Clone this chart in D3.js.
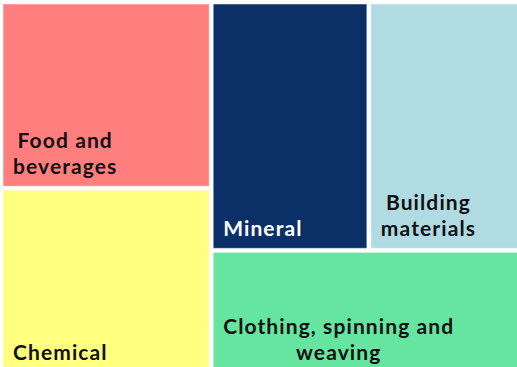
<!DOCTYPE html>
<html>
<head>
<meta charset="utf-8">
<script src="https://cdn.jsdelivr.net/npm/d3@7"></script>
<style>
  html, body { margin: 0; padding: 0; background: #fff; overflow: hidden; }
  svg { display: block; }
</style>
</head>
<body>
<div id="chart"></div>
<script>
// sectors, in layout order
const categories = ['Food and beverages', 'Chemical', 'Mineral', 'Building materials', 'Clothing, spinning and weaving'];
const values = [20, 20, 20, 20, 20];
// how each label breaks into lines
const labelLines = [
  ['Food and', 'beverages'],
  ['Chemical'],
  ['Mineral'],
  ['Building', 'materials'],
  ['Clothing, spinning and', 'weaving']
];
const colors = ['#ff7f7f', '#ffff80', '#0b3068', '#b0dbe3', '#66e5a1'];
const textColors = ['#111', '#111', '#fff', '#111', '#111'];

const width = 517;
const height = 367;
const margin = { top: 4, left: 3 };

const svg = d3.select('#chart')
  .append('svg')
  .attr('width', width)
  .attr('height', height);

const container = svg.append('g')
  .attr('transform', `translate(${margin.left},${margin.top})`);

const root = d3.hierarchy({
  children: categories.map((c, i) => ({ name: c, value: values[i], i }))
}).sum((d) => d.value || 0);

d3.treemap()
  .tile(d3.treemapSquarify)
  .size([521.5, 368.5])
  .paddingInner(4)(root);

const cells = container.selectAll('g.cell')
  .data(root.leaves())
  .enter()
  .append('g')
  .attr('class', 'cell');

cells.append('rect')
  .attr('x', (d) => d.x0)
  .attr('y', (d) => d.y0)
  .attr('width', (d) => d.x1 - d.x0)
  .attr('height', (d) => d.y1 - d.y0)
  .attr('fill', (d) => colors[d.data.i])
  .attr('stroke', '#fff')
  .attr('stroke-opacity', 0.5)
  .attr('stroke-width', 1);

cells.each(function (d) {
  const lines = labelLines[d.data.i];
  const lineHeight = 25.6;
  const text = d3.select(this).append('text')
    .attr('font-family', 'Lato, sans-serif')
    .attr('font-weight', 700)
    .attr('font-size', 21)
    .attr('letter-spacing', 1.1)
    .attr('fill', textColors[d.data.i])
    .attr('text-anchor', 'middle');
  const spans = text.selectAll('tspan')
    .data(lines)
    .enter()
    .append('tspan')
    .text((t) => t);
  let maxW = 0;
  spans.each(function () { maxW = Math.max(maxW, this.getComputedTextLength()); });
  const cx = d.x0 + 10 + maxW / 2;
  const baseY = d.y1 - 12.5;
  spans
    .attr('x', cx)
    .attr('y', (t, k) => baseY - (lines.length - 1 - k) * lineHeight);
});
</script>
</body>
</html>
